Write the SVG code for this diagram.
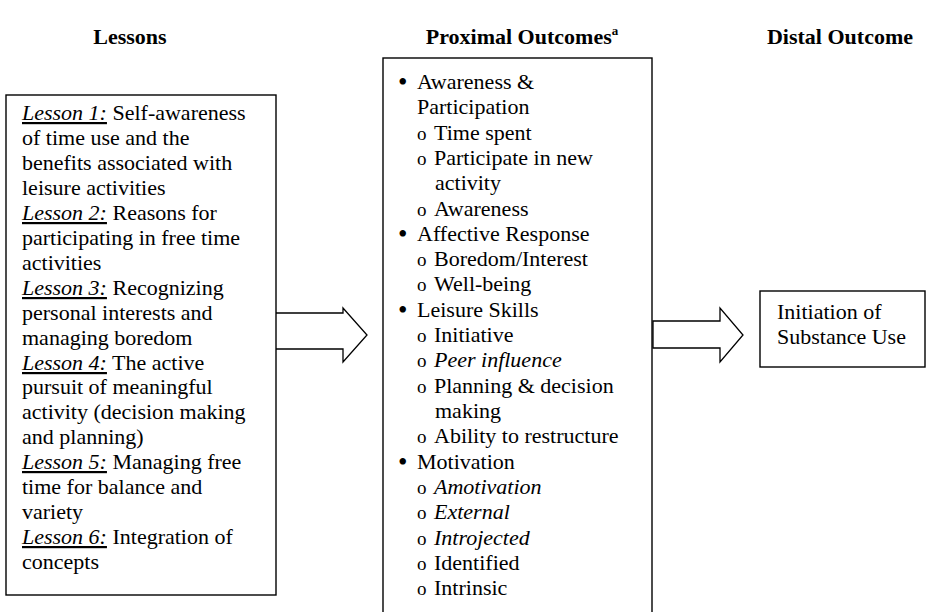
<svg xmlns="http://www.w3.org/2000/svg" width="930" height="612" viewBox="0 0 930 612">
<style>
text{font-family:"Liberation Serif","Times New Roman",serif;fill:#000}
.h{font-size:22px;font-weight:bold}
.t{font-size:22px}
.b{font-size:27px}
.l{font-style:italic;text-decoration:underline}
.i{font-style:italic}
.o{font-size:19px}
.box{fill:#fff;stroke:#000;stroke-width:1.4}
.arr{fill:#fff;stroke:#000;stroke-width:1.3;stroke-linejoin:miter}
</style>
<rect width="930" height="612" fill="#fff"/>
<g id="headers">
<text class="h" x="130" y="44" text-anchor="middle">Lessons</text>
<text class="h" x="522" y="44" text-anchor="middle">Proximal Outcomes<tspan font-size="13" dy="-9">a</tspan></text>
<text class="h" x="840" y="44" text-anchor="middle">Distal Outcome</text>
</g>
<g id="connectors">
<polygon class="arr" points="275,313 343,313 343,308 367,335 343,362 343,349 275,349"/>
<polygon class="arr" points="653,321 720,321 720,308 743,335 720,362 720,348 653,348"/>
</g>
<g id="lessons">
<rect class="box" x="6" y="95" width="270" height="500"/>
<text class="t" x="22" y="120"><tspan class="l">Lesson 1:</tspan> Self-awareness</text>
<text class="t" x="22" y="145">of time use and the</text>
<text class="t" x="22" y="170">benefits associated with</text>
<text class="t" x="22" y="195">leisure activities</text>
<text class="t" x="22" y="220"><tspan class="l">Lesson 2:</tspan> Reasons for</text>
<text class="t" x="22" y="245">participating in free time</text>
<text class="t" x="22" y="270">activities</text>
<text class="t" x="22" y="295"><tspan class="l">Lesson 3:</tspan> Recognizing</text>
<text class="t" x="22" y="320">personal interests and</text>
<text class="t" x="22" y="345">managing boredom</text>
<text class="t" x="22" y="370"><tspan class="l">Lesson 4:</tspan> The active</text>
<text class="t" x="22" y="394">pursuit of meaningful</text>
<text class="t" x="22" y="419">activity (decision making</text>
<text class="t" x="22" y="444">and planning)</text>
<text class="t" x="22" y="469"><tspan class="l">Lesson 5:</tspan> Managing free</text>
<text class="t" x="22" y="494">time for balance and</text>
<text class="t" x="22" y="519">variety</text>
<text class="t" x="22" y="544"><tspan class="l">Lesson 6:</tspan> Integration of</text>
<text class="t" x="22" y="569">concepts</text>
</g>
<g id="proximal">
<rect class="box" x="383" y="58" width="269" height="560"/>
<text class="b" x="398" y="91">•</text><text class="t" x="417" y="89">Awareness &amp;</text>
<text class="t" x="417" y="114">Participation</text>
<text class="o" x="417" y="140">o</text><text class="t" x="434" y="140">Time spent</text>
<text class="o" x="417" y="165">o</text><text class="t" x="434" y="165">Participate in new</text>
<text class="t" x="435" y="190">activity</text>
<text class="o" x="417" y="216">o</text><text class="t" x="434" y="216">Awareness</text>
<text class="b" x="398" y="243">•</text><text class="t" x="417" y="241">Affective Response</text>
<text class="o" x="417" y="266">o</text><text class="t" x="434" y="266">Boredom/Interest</text>
<text class="o" x="417" y="291">o</text><text class="t" x="434" y="291">Well-being</text>
<text class="b" x="398" y="319">•</text><text class="t" x="417" y="317">Leisure Skills</text>
<text class="o" x="417" y="342">o</text><text class="t" x="434" y="342">Initiative</text>
<text class="o" x="417" y="367">o</text><text class="t i" x="434" y="367">Peer influence</text>
<text class="o" x="417" y="393">o</text><text class="t" x="434" y="393">Planning &amp; decision</text>
<text class="t" x="435" y="418">making</text>
<text class="o" x="417" y="443">o</text><text class="t" x="434" y="443">Ability to restructure</text>
<text class="b" x="398" y="471">•</text><text class="t" x="417" y="469">Motivation</text>
<text class="o" x="417" y="494">o</text><text class="t i" x="434" y="494">Amotivation</text>
<text class="o" x="417" y="519">o</text><text class="t i" x="434" y="519">External</text>
<text class="o" x="417" y="545">o</text><text class="t i" x="434" y="545">Introjected</text>
<text class="o" x="417" y="570">o</text><text class="t" x="434" y="570">Identified</text>
<text class="o" x="417" y="595">o</text><text class="t" x="434" y="595">Intrinsic</text>
</g>
<g id="distal">
<rect class="box" x="760" y="291" width="165" height="76"/>
<text class="t" x="777" y="319">Initiation of</text>
<text class="t" x="777" y="344">Substance Use</text>
</g>
</svg>
